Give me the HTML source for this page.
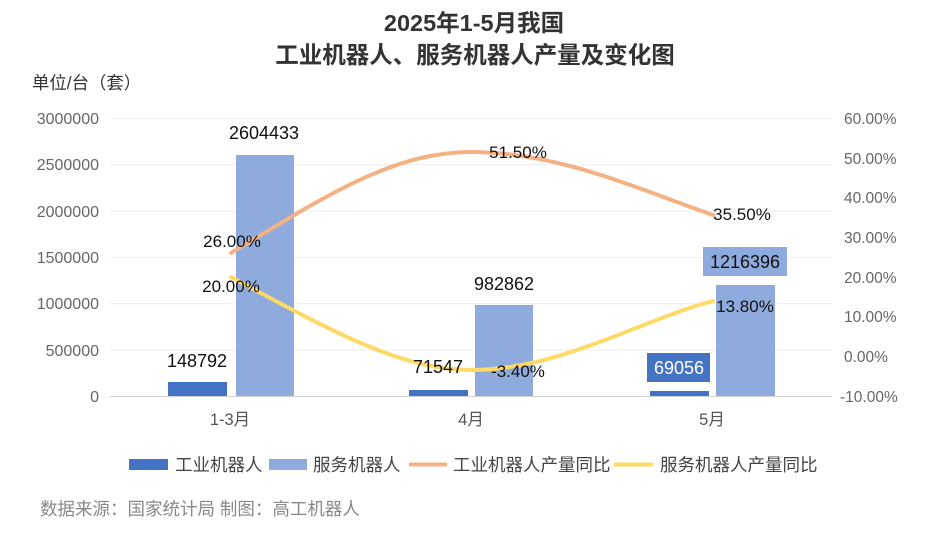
<!DOCTYPE html>
<html><head><meta charset="utf-8"><style>
body{margin:0;background:#fff;}
text{font-family:"Liberation Sans","Noto Sans CJK SC",sans-serif;}
</style></head><body>
<svg width="944" height="528" xmlns="http://www.w3.org/2000/svg">
<rect width="944" height="528" fill="#fff"/>
<text x="474" y="31" text-anchor="middle" font-size="23.5" font-weight="bold" fill="#333">2025年1-5月我国</text>
<text x="475" y="63" text-anchor="middle" font-size="23.5" font-weight="bold" fill="#333">工业机器人、服务机器人产量及变化图</text>
<text x="32" y="89" font-size="17.4" fill="#333">单位/台（套）</text>
<g stroke="#eeeeee" stroke-width="1">
<line x1="110" x2="832" y1="118.5" y2="118.5"/>
<line x1="110" x2="832" y1="164.8" y2="164.8"/>
<line x1="110" x2="832" y1="211.2" y2="211.2"/>
<line x1="110" x2="832" y1="257.5" y2="257.5"/>
<line x1="110" x2="832" y1="303.8" y2="303.8"/>
<line x1="110" x2="832" y1="350.2" y2="350.2"/>
</g>
<line x1="110" x2="832" y1="396.5" y2="396.5" stroke="#d0d0d0"/>
<g font-size="16" fill="#666" text-anchor="end">
<text x="99" y="124">3000000</text><text x="99" y="170">2500000</text><text x="99" y="217">2000000</text>
<text x="99" y="263">1500000</text><text x="99" y="309">1000000</text><text x="99" y="356">500000</text><text x="99" y="402">0</text>
</g>
<g font-size="15.5" fill="#666">
<text x="844" y="124">60.00%</text><text x="844" y="164">50.00%</text><text x="844" y="203">40.00%</text>
<text x="844" y="243">30.00%</text><text x="844" y="283">20.00%</text><text x="844" y="322">10.00%</text>
<text x="844" y="362">0.00%</text><text x="840" y="402">-10.00%</text>
</g>
<g fill="#4472c4">
<rect x="168" y="382" width="59" height="14"/>
<rect x="409" y="390" width="59" height="6"/>
<rect x="650" y="391" width="59" height="5"/>
</g>
<g fill="#8faadc">
<rect x="236" y="155" width="58" height="241"/>
<rect x="475" y="305" width="58" height="91"/>
<rect x="716" y="285" width="59" height="111"/>
</g>
<path d="M231,253 C320,200 390,152 471,152 C560,152 640,190 713,215" fill="none" stroke="#f4b183" stroke-width="4" stroke-linecap="round"/>
<path d="M231,277 C330,330 400,370 471,370 C560,370 640,320 713,301" fill="none" stroke="#ffd966" stroke-width="4" stroke-linecap="round"/>
<rect x="647" y="353" width="63" height="29" fill="#4472c4"/>
<rect x="703" y="247" width="84" height="29" fill="#8faadc"/>
<g font-size="18" fill="#111" text-anchor="middle">
<text x="197" y="367">148792</text>
<text x="264" y="139">2604433</text>
<text x="438" y="373">71547</text>
<text x="504" y="290">982862</text>
<text x="679" y="374" fill="#fff">69056</text>
<text x="745" y="268">1216396</text>
</g>
<g font-size="17" fill="#111" text-anchor="middle">
<text x="232" y="247">26.00%</text>
<text x="231" y="292">20.00%</text>
<text x="518" y="158">51.50%</text>
<text x="518" y="377">-3.40%</text>
<text x="742" y="220">35.50%</text>
<text x="745" y="312">13.80%</text>
</g>
<g font-size="16.5" fill="#555" text-anchor="middle">
<text x="230" y="425">1-3月</text><text x="471" y="425">4月</text><text x="712" y="425">5月</text>
</g>
<g font-size="17.5" fill="#444">
<rect x="129" y="459" width="39" height="11" fill="#4472c4"/>
<text x="175" y="471">工业机器人</text>
<rect x="269" y="459" width="38" height="11" fill="#8faadc"/>
<text x="313" y="471">服务机器人</text>
<line x1="409" x2="447" y1="464.5" y2="464.5" stroke="#f4b183" stroke-width="4"/>
<text x="453" y="471">工业机器人产量同比</text>
<line x1="614" x2="653" y1="464.5" y2="464.5" stroke="#ffd966" stroke-width="4"/>
<text x="660" y="471">服务机器人产量同比</text>
</g>
<text x="40" y="515" font-size="17.5" fill="#888">数据来源：国家统计局 制图：高工机器人</text>
</svg>
</body></html>
